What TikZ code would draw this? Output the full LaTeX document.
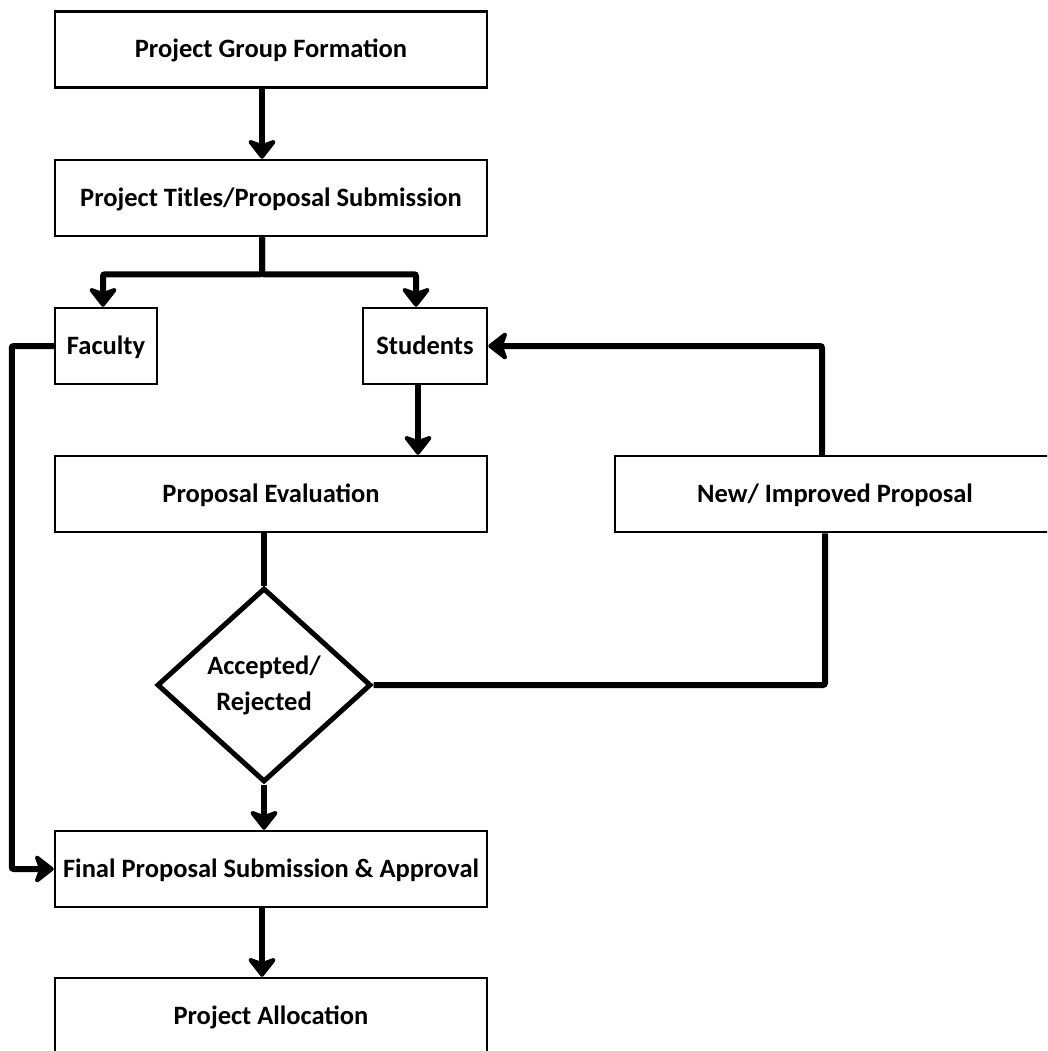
\documentclass[tikz,border=0pt]{standalone}
\usepackage{fontspec}
\setmainfont{Carlito}
\usetikzlibrary{arrows.meta,shapes.geometric}
\tikzset{
  box/.style={draw, line width=2.5pt, minimum height=76pt, inner sep=0pt, text height=20pt, text depth=3pt, font=\bfseries\fontsize{26.5}{32}\selectfont},
  kstep/.style={box, minimum width=432pt},
  kdecision/.style={draw, diamond, line width=5pt, minimum width=214pt, minimum height=194pt, inner sep=0pt, align=center, font=\bfseries\fontsize{26.5}{36}\selectfont},
  flow/.style={-{Stealth[length=22pt, width=34pt, inset=6pt, round]}, line width=6pt},
  link/.style={line width=6pt},
}

\begin{document}
\begin{tikzpicture}[x=1pt, y=-1pt]
    \clip (0,0) rectangle (1047,1051);
    \useasboundingbox (0,0) rectangle (1047,1051);
    \node[kstep] (form) at (271,49.5) {Project Group Formation};
    \node[kstep] (titles) at (271,198) {Project Titles/Proposal Submission};
    \node[box, minimum width=102pt] (faculty) at (106,346) {Faculty};
    \node[box, minimum width=124pt] (students) at (425,346) {Students};
    \node[kstep] (evaluation) at (271,494) {Proposal Evaluation};
    \node[box, minimum width=440pt] (newprop) at (835,494) {New/ Improved Proposal};
    \node[kdecision] (decision) at (264,685) {Accepted/\\Rejected};
    \node[kstep] (final) at (271,869) {Final Proposal Submission \& Approval};
    \node[kstep] (alloc) at (271,1016) {Project Allocation};
    \draw[flow] ([xshift=-9pt]form.south) -- ([xshift=-9pt]titles.north);
    \draw[flow, rounded corners=2pt] ([xshift=-9pt]titles.south) -- ++(0,37) -| ([xshift=-3pt]faculty.north);
    \draw[flow, rounded corners=2pt] ([xshift=-9pt]titles.south) -- ++(0,37) -| ([xshift=-9pt]students.north);
    \draw[flow] ([xshift=-7pt]students.south) -- ([xshift=-7pt]students.south |- evaluation.north);
    \draw[flow, rounded corners=2pt] (faculty.west) -- ++(-42,0) |- (final.west);
    \draw[flow, rounded corners=2pt] ([xshift=-13pt]newprop.north) |- (students.east);
    \draw[link] (decision.north |- evaluation.south) -- (decision.north);
    \draw[link, rounded corners=2pt] (decision.east) -| ([xshift=-10pt]newprop.south);
    \draw[flow] (decision.south) -- (decision.south |- final.north);
    \draw[flow] ([xshift=-9pt]final.south) -- ([xshift=-9pt]alloc.north);
\end{tikzpicture}
\end{document}
